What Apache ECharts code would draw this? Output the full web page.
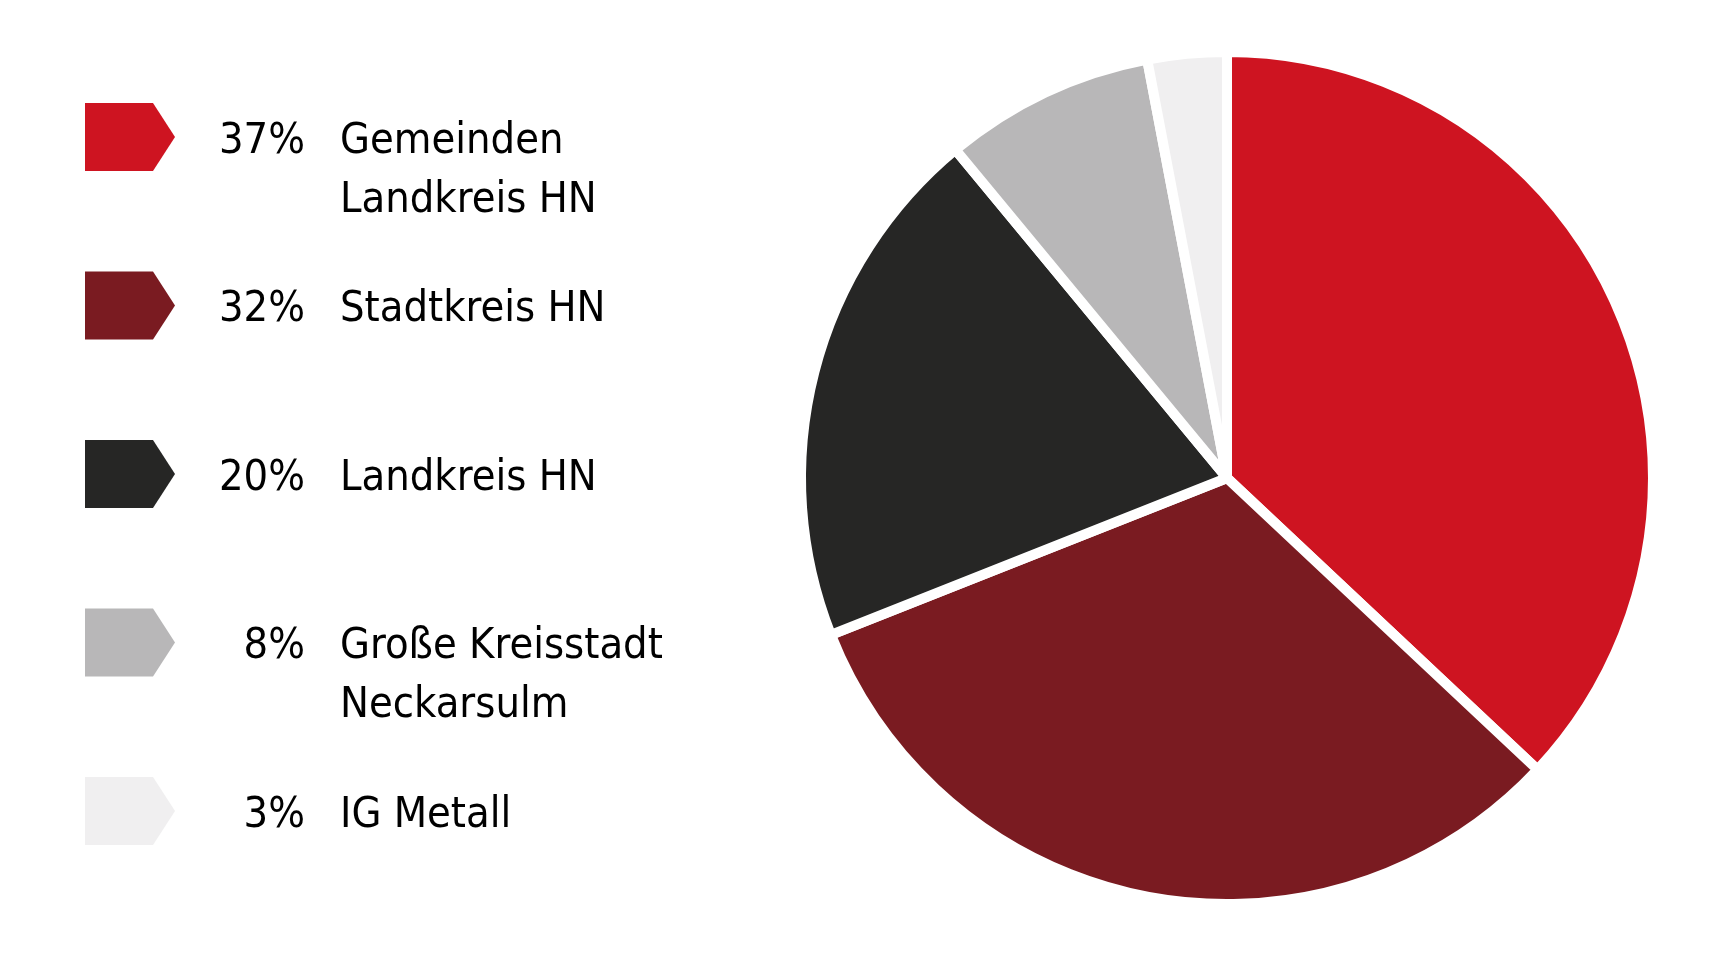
<!DOCTYPE html>
<html>
<head>
<meta charset="utf-8">
<script src="https://cdn.jsdelivr.net/npm/echarts@6/dist/echarts.min.js"></script>
<style>
html,body{margin:0;padding:0;background:#fff;}
#chart{width:1718px;height:956px;}
</style>
</head>
<body>
<div id="chart"></div>
<script>
// Data
var categories = ['Gemeinden\nLandkreis HN', 'Stadtkreis HN', 'Landkreis HN', 'Große Kreisstadt\nNeckarsulm', 'IG Metall'];
var values = [37, 32, 20, 8, 3];
var percentLabels = ['37%', '32%', '20%', '\u20078%', '\u20073%'];
var colors = ['#CE1421', '#7A1B21', '#262625', '#B8B7B8', '#F0EFF0'];

var FONT = "'DejaVu Sans Condensed', sans-serif";
var FS = 43;
var LH = 59;
var ITEM_H = 68;
var SPACING = 168.5;
var TOPPAD = 9;

var chart = echarts.init(document.getElementById('chart'), null, {renderer: 'canvas'});

var pieData = categories.map(function (c, i) {
  return {name: c, value: values[i], itemStyle: {color: colors[i]}};
});

var blockH = LH * 3 + TOPPAD;

var option = {
  backgroundColor: '#ffffff',
  animation: false,
  legend: {
    orient: 'vertical',
    left: 85,
    top: 103 - (blockH - ITEM_H) / 2,
    padding: 0,
    itemGap: SPACING - blockH,
    itemWidth: 90,
    itemHeight: ITEM_H,
    icon: 'path://M0,0 L68,0 L90,34 L68,68 L0,68 Z',
    selectedMode: false,
    itemStyle: {borderWidth: 0},
    data: categories,
    formatter: function (name) {
      var i = categories.indexOf(name);
      var parts = name.split('\n');
      var s = '{s| }\n{l| }{p|' + percentLabels[i] + '}{n|' + parts[0] + '}\n{s2| }';
      if (parts.length > 1) s += '{n|' + parts[1] + '}';
      return s;
    },
    textStyle: {
      fontFamily: FONT,
      fontSize: FS,
      color: '#000',
      lineHeight: LH,
      rich: {
        s: {width: 1, lineHeight: LH + TOPPAD, fontSize: FS, fontFamily: FONT},
        l: {width: 39, lineHeight: LH, fontSize: FS, fontFamily: FONT},
        s2: {width: 160, lineHeight: LH, fontSize: FS, fontFamily: FONT},
        p: {width: 121, lineHeight: LH, fontSize: FS, fontFamily: FONT, color: '#000'},
        n: {lineHeight: LH, fontSize: FS, fontFamily: FONT, color: '#000'}
      }
    }
  },
  series: [{
    type: 'pie',
    center: [1227, 478],
    radius: [0, 426],
    startAngle: 90,
    clockwise: true,
    silent: true,
    label: {show: false},
    labelLine: {show: false},
    emphasis: {disabled: true},
    itemStyle: {borderColor: '#ffffff', borderWidth: 10},
    data: pieData
  }]
};
chart.setOption(option);
</script>
</body>
</html>
